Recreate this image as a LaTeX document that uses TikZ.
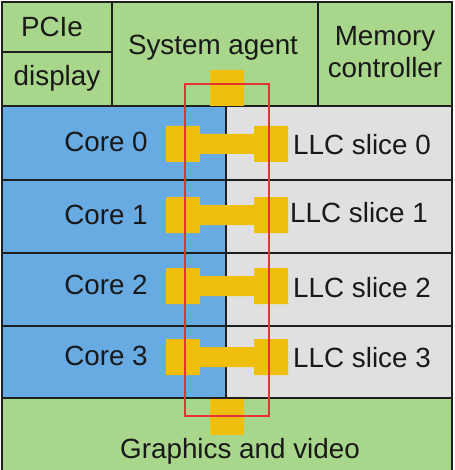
\documentclass[tikz,border=0pt]{standalone}
\usepackage{fontspec}
\setmainfont{Liberation Sans}

\definecolor{uncoreGreen}{HTML}{A8D68A}
\definecolor{coreBlue}{HTML}{68AAE2}
\definecolor{llcGray}{HTML}{E0E0E0}
\definecolor{ringYellow}{HTML}{F0BE0C}
\definecolor{ringRed}{HTML}{E63232}

\tikzset{
    die grid/.style={
      draw=black!88,
      line width=2.6pt
    },
    ring stop/.style={
      fill=ringYellow
    },
    ring frame/.style={
      draw=ringRed,
      line width=2.8pt
    },
    die label/.style={
      font=\fontsize{27.8}{32}\selectfont,
      text=black!90,
      inner sep=0pt
    }
  }

\begin{document}
\begin{tikzpicture}[x=1pt,y=-1pt]
      \useasboundingbox (0,0) rectangle (454,470);

      % 塗り
      \fill[uncoreGreen] (2,2) rectangle (452,106);
      \fill[coreBlue] (2,106) rectangle (226,398);
      \fill[llcGray] (226,106) rectangle (452,398);
      \fill[uncoreGreen] (2,398) rectangle (452,472);

      % 輪郭
      \draw[die grid] (2,472) -- (2,2) -- (452,2) -- (452,472);
      \draw[die grid] (112,2) -- (112,106);
      \draw[die grid] (318,2) -- (318,106);
      \draw[die grid] (2,52) -- (112,52);
      \draw[die grid] (2,106) -- (452,106);
      \draw[die grid] (2,180) -- (452,180);
      \draw[die grid] (2,253) -- (452,253);
      \draw[die grid] (2,326) -- (452,326);
      \draw[die grid] (2,398) -- (452,398);
      \draw[die grid] (226,106) -- (226,398);

      % リングストップ
      \fill[ring stop] (210,70) rectangle (244,106);
      \fill[ring stop] (210,399) rectangle (244,435);
      \fill[ring stop] (166,126) rectangle (200,162) (200,134) rectangle (254,154) (254,126) rectangle (288,162);
      \fill[ring stop] (166,197) rectangle (200,233) (200,205) rectangle (254,225) (254,197) rectangle (288,233);
      \fill[ring stop] (166,268) rectangle (200,304) (200,276) rectangle (254,296) (254,268) rectangle (288,304);
      \fill[ring stop] (166,339) rectangle (200,375) (200,347) rectangle (254,367) (254,339) rectangle (288,375);

      % リング
      \draw[ring frame] (185,84) rectangle (269,416);

      % ラベル
      \node[die label] (pcie) at (52,27) {PCIe};
      \node[die label] (display) at (57,78) {display};
      \node[die label] (sa) at (213,48) {System agent};
      \node[die label, align=center] (mc) at (385,52) {Memory\\controller};
      \node[die label] (core0) at (106,142) {Core 0};
      \node[die label] (core1) at (106,215) {Core 1};
      \node[die label] (core2) at (106,285) {Core 2};
      \node[die label] (core3) at (106,356) {Core 3};
      \node[die label] (llc0) at (362,145) {LLC slice 0};
      \node[die label] (llc1) at (359,213) {LLC slice 1};
      \node[die label] (llc2) at (362,288) {LLC slice 2};
      \node[die label] (llc3) at (362,358) {LLC slice 3};
      \node[die label] (gfx) at (240,451) {Graphics and video};
    \end{tikzpicture}
\end{document}
